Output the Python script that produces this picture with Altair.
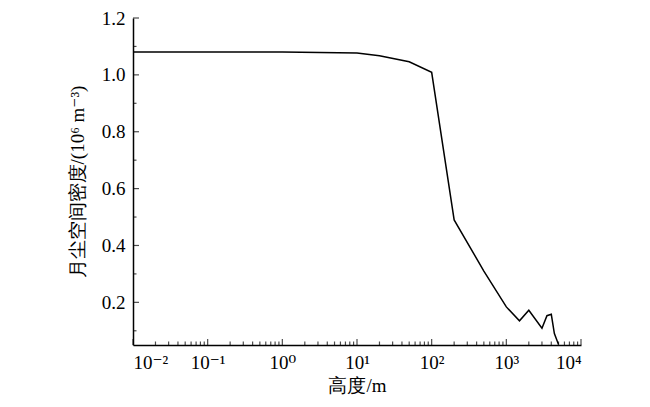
import altair as alt
import pandas as pd

# curve values
heights = [0.01, 0.1, 1, 10, 20, 50, 100, 200, 500, 1000, 1500, 2000, 3000, 3500, 4000, 4400, 5000]
density = [1.08, 1.08, 1.08, 1.077, 1.067, 1.046, 1.009, 0.49, 0.31, 0.184, 0.135, 0.172, 0.109, 0.153, 0.158, 0.09, 0.052]

# axis ticks
x_major = [0.01, 0.1, 1, 10, 100, 1000, 10000]
x_labels = ["10⁻²", "10⁻¹", "10⁰", "10¹", "10²", "10³", "10⁴"]
x_minor = [k * 10.0 ** e for e in range(-2, 4) for k in range(2, 10)]
y_major = [0.2, 0.4, 0.6, 0.8, 1.0, 1.2]
y_minor = [0.1, 0.3, 0.5, 0.7, 0.9, 1.1]

x_domain = [0.01, 10000]
y_domain = [0.05, 1.2]

x_title = "高度/m"
y_title = "月尘空间密度/(10⁶ m⁻³)"

FONT = "Times New Roman, Liberation Serif, DejaVu Serif, serif"

xs = alt.Scale(type="log", domain=x_domain, nice=False)
ys = alt.Scale(domain=y_domain, nice=False, zero=False)

curve_df = pd.DataFrame({"h": heights, "d": density})

label_array = "[" + ",".join("'%s'" % s for s in x_labels) + "]"

line = alt.Chart(curve_df).mark_line(color="black", strokeWidth=1.5).encode(
    x=alt.X("h:Q", scale=xs,
            axis=alt.Axis(values=x_major, labelExpr=label_array + "[round(log(datum.value)/LN10)+2]",
                          ticks=False, grid=False, title=x_title,
                          labelPadding=8, titlePadding=4,
                          labelFont=FONT, titleFont=FONT)),
    y=alt.Y("d:Q", scale=ys,
            axis=alt.Axis(values=y_major, format=".1f", ticks=False, grid=False,
                          title=y_title, labelPadding=8, titlePadding=14,
                          labelFont=FONT, titleFont=FONT)),
)

xmaj = alt.Chart(pd.DataFrame({"v": x_major})).mark_tick(
    orient="vertical", size=6, thickness=1.2, color="black", yOffset=-3).encode(
    x=alt.X("v:Q", scale=xs), y=alt.datum(y_domain[0]))
xmin = alt.Chart(pd.DataFrame({"v": x_minor})).mark_tick(
    orient="vertical", size=3.5, thickness=1.2, color="black", yOffset=-1.75).encode(
    x=alt.X("v:Q", scale=xs), y=alt.datum(y_domain[0]))
ymaj = alt.Chart(pd.DataFrame({"v": y_major})).mark_tick(
    orient="horizontal", size=6, thickness=1.2, color="black", xOffset=3).encode(
    y=alt.Y("v:Q", scale=ys), x=alt.datum(x_domain[0]))
ymin = alt.Chart(pd.DataFrame({"v": y_minor})).mark_tick(
    orient="horizontal", size=3.5, thickness=1.2, color="black", xOffset=1.75).encode(
    y=alt.Y("v:Q", scale=ys), x=alt.datum(x_domain[0]))

chart = alt.layer(line, xmaj, xmin, ymaj, ymin).properties(
    width=448, height=327,
    autosize=alt.AutoSizeParams(type="none"),
    padding={"left": 125, "top": 10, "right": 60, "bottom": 55},
    background="white",
).configure_view(stroke=None).configure_axis(
    domainColor="black", domainWidth=1.5,
    labelFont=FONT, labelFontSize=19, labelColor="black",
    titleFont=FONT, titleFontSize=19, titleColor="black", titleFontWeight="normal",
)

chart.save("out.html", embed_options={"renderer": "svg", "actions": False})
